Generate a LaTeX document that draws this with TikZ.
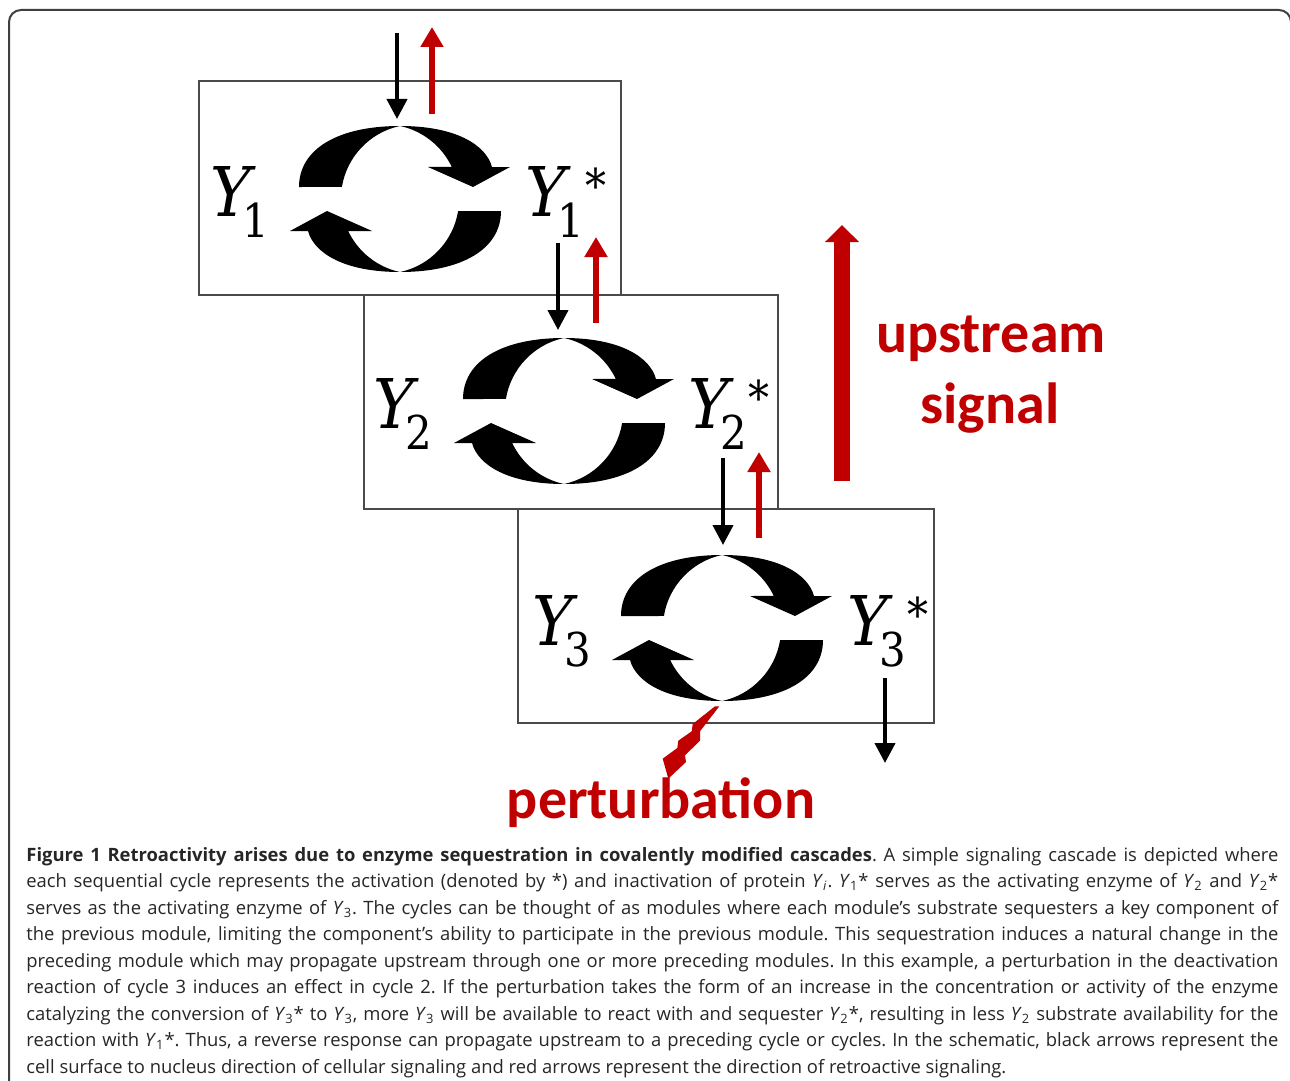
\documentclass[tikz,border=0pt]{standalone}
\usepackage{fontspec}
\setmainfont{Open Sans}
\newfontfamily\calib{Carlito}
\newfontfamily\cmb{DejaVu Serif Condensed}
\usetikzlibrary{arrows.meta}
\definecolor{dred}{HTML}{C00000}
\definecolor{boxgray}{HTML}{4A4A4A}
\newcommand{\Ysubs}[1]{\raisebox{-0.32em}{\fontsize{23.3}{26}\selectfont\cmb #1}}
\newcommand{\Ylab}[1]{{\cmb\itshape Y}\kern-0.12em\Ysubs{#1}}
\newcommand{\Ylabs}[1]{{\cmb\itshape Y}\kern-0.12em\Ysubs{#1}\kern0.02em\raisebox{0.19em}{\fontsize{23.3}{26}\selectfont\cmb *}}
\newcommand{\Yc}[1]{\textit{Y}\textsubscript{#1}}
\newcommand{\capl}[1]{\makebox[626pt][s]{#1}}
\tikzset{
  modbox/.style={draw=boxgray, line width=0.7pt},
  blkarrow/.style={line width=2pt, -{Triangle[width=10pt,length=10pt]}},
  redarrow/.style={dred, line width=2.8pt, -{Triangle[width=11pt,length=10pt]}},
  bigarrow/.style={dred, line width=8pt, -{Triangle[width=16.5pt,length=8.5pt]}},
  ylabel/.style={inner sep=0pt, anchor=base west, font=\fontsize{34.3}{38}\selectfont},
  redlabel/.style={text=dred, inner sep=0pt, anchor=base, font=\calib\bfseries\fontsize{29}{35}\selectfont},
  capline/.style={inner sep=0pt, anchor=base west, text=black!85, font=\fontsize{9.2}{13.25}\selectfont\frenchspacing},
  pics/cycle/.style={code={
    \fill (-101,12) .. controls (-101,50) and (-62,73) .. (0,73)
      .. controls (56,73) and (86,54) .. (92,32)
      -- (110,32) -- (73,12) -- (28,32) -- ([shift={(-15.7,0)}]25.4:74.7)
      arc[start angle=25.4,end angle=77.9,radius=74.7]
      arc[start angle=102.1,end angle=170.75,radius=74.7] -- cycle;
    \fill[rotate=180] (-101,12) .. controls (-101,50) and (-62,73) .. (0,73)
      .. controls (56,73) and (86,54) .. (92,32)
      -- (110,32) -- (73,12) -- (28,32) -- ([shift={(-15.7,0)}]25.4:74.7)
      arc[start angle=25.4,end angle=77.9,radius=74.7]
      arc[start angle=102.1,end angle=170.75,radius=74.7] -- cycle;
  }}
}
\begin{document}
\begin{tikzpicture}[x=0.5pt,y=-0.5pt]
\useasboundingbox (0,0) rectangle (1290,1081);
% outer frame
\draw[line width=1pt, draw=black!75, rounded corners=6pt] (9,10) rectangle (1291,1110);
% module boxes
\draw[modbox] (199,81) rectangle (621,295);
\draw[modbox] (364,295) rectangle (778,509);
\draw[modbox] (518,509) rectangle (934,723);
% cycles
\pic[yscale=-1] (c1) at (400,199) {cycle};
\pic[yscale=-1] (c2) at (564,411) {cycle};
\pic[yscale=-1] (c3) at (722,628) {cycle};
% labels
\node[ylabel] (y1) at (210,216) {\Ylab{1}};
\node[ylabel] (y1s) at (525,216) {\Ylabs{1}};
\node[ylabel] (y2) at (373,428) {\Ylab{2}};
\node[ylabel] (y2s) at (688,428) {\Ylabs{2}};
\node[ylabel] (y3) at (532,645) {\Ylab{3}};
\node[ylabel] (y3s) at (847,645) {\Ylabs{3}};
% arrows
\coordinate (b1s) at (397,33);  \coordinate (b1e) at (397,119);
\coordinate (r1s) at (432,114); \coordinate (r1e) at (432,27);
\coordinate (b2s) at (558,243); \coordinate (b2e) at (558,330);
\coordinate (r2s) at (596,323); \coordinate (r2e) at (596,237);
\coordinate (b3s) at (723,458); \coordinate (b3e) at (723,545);
\coordinate (r3s) at (759,538); \coordinate (r3e) at (759,452);
\coordinate (b4s) at (885,678); \coordinate (b4e) at (885,763);
\coordinate (us) at (842,481);  \coordinate (ue) at (842,225);
\draw[blkarrow] (b1s) -- (b1e);
\draw[redarrow] (r1s) -- (r1e);
\draw[blkarrow] (b2s) -- (b2e);
\draw[redarrow] (r2s) -- (r2e);
\draw[blkarrow] (b3s) -- (b3e);
\draw[redarrow] (r3s) -- (r3e);
\draw[blkarrow] (b4s) -- (b4e);
\draw[bigarrow] (us) -- (ue);
% red labels
\node[redlabel] (up1) at (991,352) {upstream};
\node[redlabel] (up2) at (990,423) {signal};
\node[redlabel] (pert) at (661,818) {perturbation};
% lightning bolt
\fill[dred] (719.3,706.3) -- (700,731.3) -- (700,740.7) -- (685,755.3) -- (686,762) -- (668.3,778.7)
  -- (662.7,758.7) -- (677.3,748) -- (678.3,740.7) -- (691.7,731.3) -- (692.7,724) -- (715,706.3) -- cycle;
% caption
\node[capline] (cap1) at (26,861) {\capl{\textbf{Figure 1 Retroactivity arises due to enzyme sequestration in covalently modified cascades}. A simple signaling cascade is depicted where}};
\node[capline] (cap2) at (26,887.5) {\capl{each sequential cycle represents the activation (denoted by *) and inactivation of protein \textit{Y}\textsubscript{\textit{i}}. \Yc{1}* serves as the activating enzyme of \Yc{2} and \Yc{2}*}};
\node[capline] (cap3) at (26,914) {\capl{serves as the activating enzyme of \Yc{3}. The cycles can be thought of as modules where each module’s substrate sequesters a key component of}};
\node[capline] (cap4) at (26,940.5) {\capl{the previous module, limiting the component’s ability to participate in the previous module. This sequestration induces a natural change in the}};
\node[capline] (cap5) at (26,967) {\capl{preceding module which may propagate upstream through one or more preceding modules. In this example, a perturbation in the deactivation}};
\node[capline] (cap6) at (26,993.5) {\capl{reaction of cycle 3 induces an effect in cycle 2. If the perturbation takes the form of an increase in the concentration or activity of the enzyme}};
\node[capline] (cap7) at (26,1020) {\capl{catalyzing the conversion of \Yc{3}* to \Yc{3}, more \Yc{3} will be available to react with and sequester \Yc{2}*, resulting in less \Yc{2} substrate availability for the}};
\node[capline] (cap8) at (26,1046.5) {\capl{reaction with \Yc{1}*. Thus, a reverse response can propagate upstream to a preceding cycle or cycles. In the schematic, black arrows represent the}};
\node[capline] (cap9) at (26,1073) {cell surface to nucleus direction of cellular signaling and red arrows represent the direction of retroactive signaling.};
\end{tikzpicture}
\end{document}
